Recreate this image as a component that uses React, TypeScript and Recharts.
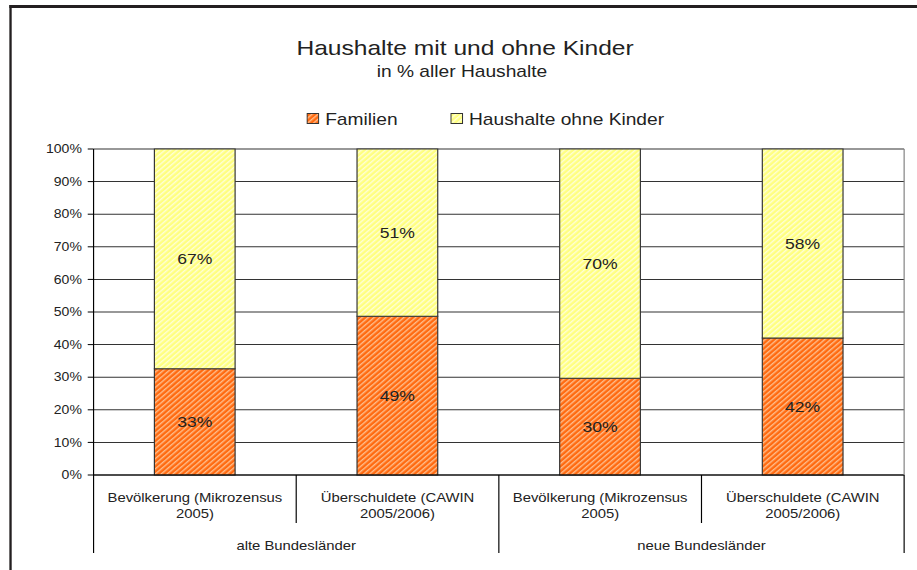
import React from 'react';
import { BarChart, Bar, XAxis, YAxis, CartesianGrid, LabelList, Legend } from 'recharts';

const categories = [
  'Bevölkerung (Mikrozensus 2005)',
  'Überschuldete (CAWIN 2005/2006)',
  'Bevölkerung (Mikrozensus 2005)',
  'Überschuldete (CAWIN 2005/2006)',
];
const groups = ['alte Bundesländer', 'alte Bundesländer', 'neue Bundesländer', 'neue Bundesländer'];
const familien = [32.6, 48.7, 29.7, 42.0];
const ohneKinder = [67.4, 51.3, 70.3, 58.0];
const yTicks = [0, 10, 20, 30, 40, 50, 60, 70, 80, 90, 100];
const seriesNames = { familien: 'Familien', ohne: 'Haushalte ohne Kinder' };
const title = 'Haushalte mit und ohne Kinder';
const subtitle = 'in % aller Haushalte';

const data = categories.map((c, i) => ({
  cat: c,
  group: groups[i],
  familien: familien[i],
  ohne: ohneKinder[i],
}));

// layout (unscaled coordinates; the whole chart is stretched horizontally)
const W = 784;
const H = 570;
const SX = 917 / W;
const PLOT_LEFT = 80;
const PLOT_RIGHT = 773;
const BAND = (PLOT_RIGHT - PLOT_LEFT) / categories.length;
const FONT = '"Liberation Sans", Arial, Helvetica, sans-serif';
const TXT = '#222';

const fills: Record<string, { base: string; stripe: string }> = {
  familien: { base: '#FF6A10', stripe: '#FFBE8C' },
  ohne: { base: '#FFFF80', stripe: '#FFFFD6' },
};

const Pattern = ({ id, k }: { id: string; k: string }) => (
  <pattern id={id} patternUnits="userSpaceOnUse" width={3.6} height={3.6} patternTransform="rotate(45)">
    <rect width={3.6} height={3.6} fill={fills[k].base} />
    <rect x={0} y={0} width={1.3} height={3.6} fill={fills[k].stripe} />
  </pattern>
);

const CatTick = (props: any) => {
  const { x, y, payload, index } = props;
  const label: string = payload.value;
  const cut = label.lastIndexOf(' ');
  const l1 = label.slice(0, cut);
  const l2 = label.slice(cut + 1);
  const half = BAND / 2;
  const isLast = index === categories.length - 1;
  return (
    <g>
      <line x1={x - half} x2={x - half} y1={y} y2={y + (index % 2 === 0 ? 78 : 48)} stroke="#000" strokeWidth={1} />
      {isLast && <line x1={x + half} x2={x + half} y1={y} y2={y + 78} stroke="#000" strokeWidth={1} />}
      <text x={x} y={y + 27} textAnchor="middle" fontSize={12.7} fill={TXT} fontFamily={FONT}>{l1}</text>
      <text x={x} y={y + 43.5} textAnchor="middle" fontSize={12.7} fill={TXT} fontFamily={FONT}>{l2}</text>
    </g>
  );
};

const GroupTick = (props: any) => {
  const { x, y, payload } = props;
  return (
    <text x={x} y={y + 25} textAnchor="middle" fontSize={12.7} fill={TXT} fontFamily={FONT}>
      {payload.value}
    </text>
  );
};

const LEGEND_X = [262, 385];

const LegendContent = (props: any) => {
  const payload = props.payload || [];
  return (
    <div style={{ position: 'relative', width: W, height: 20, fontFamily: FONT }}>
      {payload.map((p: any, i: number) => {
        const k = p.dataKey as string;
        return (
          <div
            key={k}
            style={{ position: 'absolute', left: LEGEND_X[i], top: 0, height: 20, display: 'flex', alignItems: 'center', whiteSpace: 'nowrap' }}
          >
            <svg width={11} height={11} style={{ display: 'block', marginRight: 5 }}>
              <defs>
                <Pattern id={`lg-${k}`} k={k} />
              </defs>
              <rect x={0.5} y={0.5} width={10} height={10} fill={`url(#lg-${k})`} stroke="#333" strokeWidth={1} />
            </svg>
            <span style={{ fontSize: 16.4, color: TXT, lineHeight: '20px' }}>{p.value}</span>
          </div>
        );
      })}
    </div>
  );
};

export default function App() {
  return (
    <div style={{ position: 'absolute', left: 0, top: 0, width: 917, height: H, background: '#fff', overflow: 'hidden' }}>
      <div
        style={{
          position: 'absolute',
          left: 0,
          top: 0,
          width: W,
          height: H,
          transform: `scaleX(${SX})`,
          transformOrigin: '0 0',
          fontFamily: FONT,
        }}
      >
        <div style={{ position: 'absolute', left: 7.7, top: 5, width: W, height: H, borderTop: '3px solid #231f20', borderLeft: '2.6px solid #231f20' }} />
        <div style={{ position: 'absolute', left: 0, top: 36.5, width: 2 * 397.6, textAlign: 'center', fontSize: 21, lineHeight: '21px', color: TXT, whiteSpace: 'nowrap' }}>
          {title}
        </div>
        <div style={{ position: 'absolute', left: 0, top: 62.8, width: 2 * 395, textAlign: 'center', fontSize: 16.4, lineHeight: '16.4px', color: TXT, whiteSpace: 'nowrap' }}>
          {subtitle}
        </div>
        <BarChart
          width={W}
          height={H}
          data={data}
          margin={{ top: 149, right: 0, bottom: 0, left: 0 }}
          barSize={69}
          style={{ fontFamily: FONT }}
        >
          <defs>
            <Pattern id="p-familien" k="familien" />
            <Pattern id="p-ohne" k="ohne" />
          </defs>
          <CartesianGrid horizontal vertical={false} stroke="#333" strokeWidth={1} />
          <XAxis
            dataKey="cat"
            height={50}
            interval={0}
            tickLine={false}
            tickSize={0}
            tickMargin={0}
            axisLine={{ stroke: '#000', strokeWidth: 1 }}
            tick={<CatTick />}
          />
          <XAxis
            xAxisId="grp"
            dataKey="group"
            allowDuplicatedCategory={false}
            height={45}
            interval={0}
            tickLine={false}
            tickSize={0}
            tickMargin={0}
            axisLine={false}
            tick={<GroupTick />}
          />
          <YAxis
            width={PLOT_LEFT}
            domain={[0, 100]}
            ticks={yTicks}
            interval={0}
            tickFormatter={(v: number) => `${v}%`}
            tick={{ fontSize: 12, fill: TXT, fontFamily: FONT }}
            tickLine={{ stroke: '#000' }}
            tickSize={5}
            tickMargin={5}
            axisLine={{ stroke: '#000' }}
          />
          <YAxis
            yAxisId="right"
            orientation="right"
            width={W - PLOT_RIGHT}
            domain={[0, 100]}
            tick={false}
            tickLine={false}
            axisLine={{ stroke: '#808080' }}
          />
          <Legend
            verticalAlign="middle"
            align="center"
            content={<LegendContent />}
            wrapperStyle={{ top: 108.7, left: 0, width: W, height: 20 }}
          />
          <Bar dataKey="familien" name={seriesNames.familien} stackId="a" fill="url(#p-familien)" stroke="#333" strokeWidth={1} isAnimationActive={false}>
            <LabelList dataKey="familien" position="center" formatter={(v: any) => `${Math.round(Number(v))}%`} style={{ fontSize: 15, fill: TXT, fontFamily: FONT }} />
          </Bar>
          <Bar dataKey="ohne" name={seriesNames.ohne} stackId="a" fill="url(#p-ohne)" stroke="#333" strokeWidth={1} isAnimationActive={false}>
            <LabelList dataKey="ohne" position="center" formatter={(v: any) => `${Math.round(Number(v))}%`} style={{ fontSize: 15, fill: TXT, fontFamily: FONT }} />
          </Bar>
        </BarChart>
      </div>
    </div>
  );
}
